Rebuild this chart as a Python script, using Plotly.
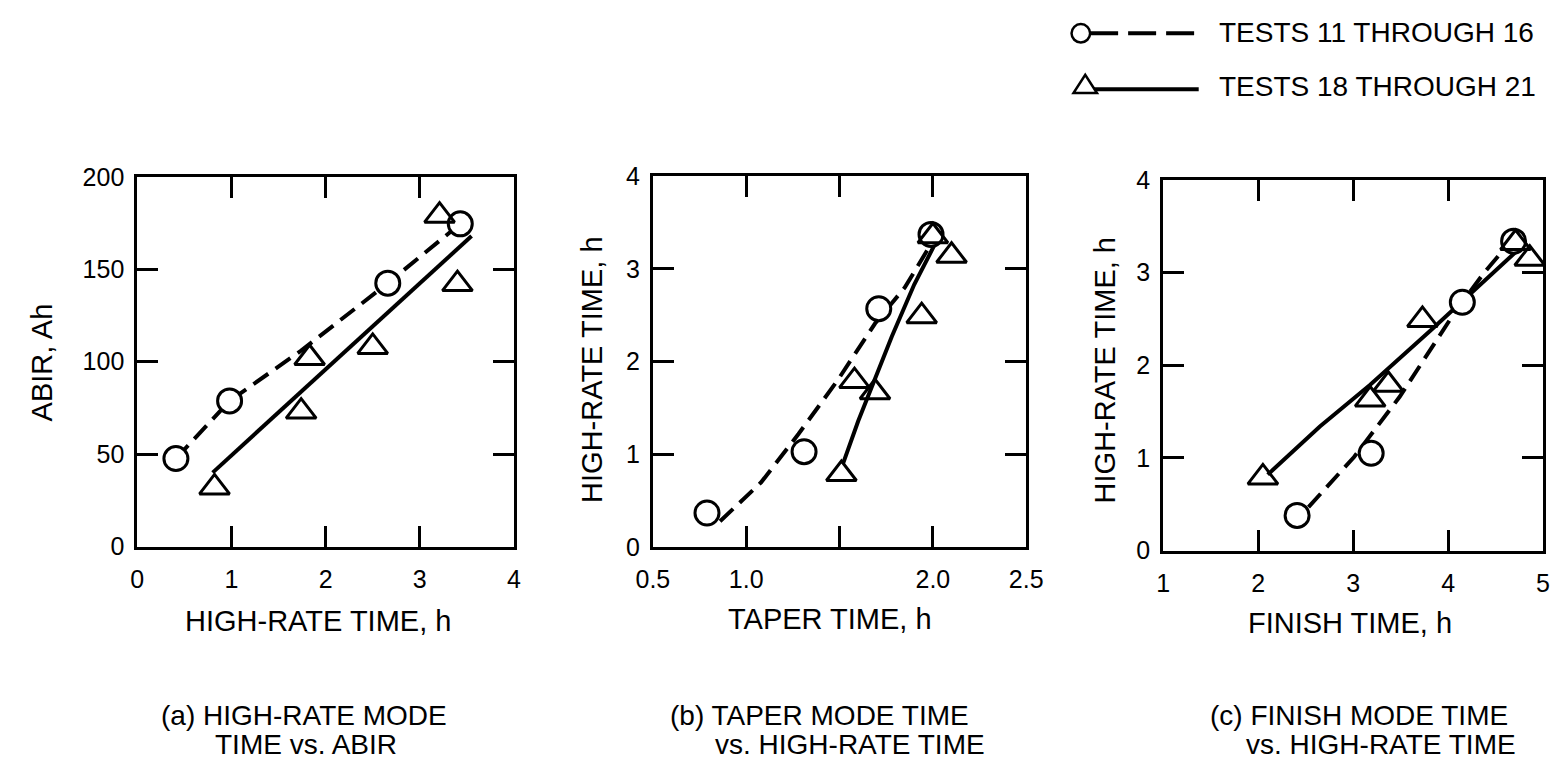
import plotly.graph_objects as go

W, H = 1562, 775
FONT = "Liberation Sans"

# ---------------- data ----------------
# Panel (a): HIGH-RATE TIME (h) vs ABIR (Ah)
a_circle_x = [0.41, 0.98, 2.66, 3.43]
a_circle_y = [47.6, 78.8, 142.5, 174.6]
a_dash_x = [0.41, 0.98, 1.74, 2.66, 3.43]
a_dash_y = [47.6, 78.8, 106.0, 142.5, 174.6]
a_tri_x = [0.82, 1.74, 1.83, 2.50, 3.21, 3.40]
a_tri_y = [32, 73, 102, 108, 179, 142]
a_solid_x = [0.80, 3.55]
a_solid_y = [40, 168]

# Panel (b): TAPER TIME (h) vs HIGH-RATE TIME (h)
b_circle_x = [0.79, 1.31, 1.71, 1.99]
b_circle_y = [0.37, 1.03, 2.57, 3.37]
b_dash_x = [0.86, 1.08, 1.28, 1.49, 1.69, 1.85, 2.00]
b_dash_y = [0.28, 0.70, 1.22, 1.80, 2.41, 2.80, 3.30]
b_tri_x = [1.51, 1.58, 1.69, 1.94, 2.00, 2.10]
b_tri_y = [0.79, 1.79, 1.67, 2.49, 3.35, 3.14]
b_solid_x = [1.52, 1.60, 1.78, 1.90, 2.03]
b_solid_y = [0.91, 1.36, 2.27, 2.83, 3.34]

# Panel (c): FINISH TIME (h) vs HIGH-RATE TIME (h)
c_circle_x = [2.41, 3.19, 4.15, 4.69]
c_circle_y = [0.38, 1.05, 2.68, 3.34]
c_dash_x = [2.53, 3.01, 3.49, 3.90, 4.07, 4.38, 4.67]
c_dash_y = [0.47, 1.01, 1.66, 2.29, 2.57, 3.00, 3.35]
c_tri_x = [2.05, 3.18, 3.37, 3.73, 4.71, 4.86]
c_tri_y = [0.79, 1.63, 1.79, 2.49, 3.32, 3.15]
c_solid_x = [2.10, 2.65, 3.18, 3.83, 4.72]
c_solid_y = [0.82, 1.34, 1.79, 2.39, 3.23]

# ticks
a_xticks = [0, 1, 2, 3, 4]
a_xticklabels = ["0", "1", "2", "3", "4"]
a_yticks = [0, 50, 100, 150, 200]
a_yticklabels = ["0", "50", "100", "150", "200"]
b_xticks = [0.5, 1.0, 1.5, 2.0, 2.5]
b_xticklabels = ["0.5", "1.0", "", "2.0", "2.5"]
b_yticks = [0, 1, 2, 3, 4]
b_yticklabels = ["0", "1", "2", "3", "4"]
c_xticks = [1, 2, 3, 4, 5]
c_xticklabels = ["1", "2", "3", "4", "5"]
c_yticks = [0, 1, 2, 3, 4]
c_yticklabels = ["0", "1", "2", "3", "4"]

# texts
x_titles = ["HIGH-RATE TIME, h", "TAPER TIME, h", "FINISH TIME, h"]
y_titles = ["ABIR, Ah", "HIGH-RATE TIME, h", "HIGH-RATE TIME, h"]
captions = [
    ["(a) HIGH-RATE MODE", "TIME vs. ABIR"],
    ["(b) TAPER MODE TIME", "vs. HIGH-RATE TIME"],
    ["(c) FINISH MODE TIME", "vs. HIGH-RATE TIME"],
]
legend_names = ["TESTS 11 THROUGH 16", "TESTS 18 THROUGH 21"]

# ---------------- layout helpers ----------------
def px(x):
    return x / W

def py(y):
    return 1 - y / H

LW = 4
DASH = "18px,9px"
CIRC = dict(symbol="circle", size=24, color="white", line=dict(color="black", width=3))
TRI = dict(symbol="triangle-up-open", size=26, color="black", line=dict(color="black", width=3))

fig = go.Figure()

panels = [
    ("x", "y", a_dash_x, a_dash_y, a_solid_x, a_solid_y, a_circle_x, a_circle_y, a_tri_x, a_tri_y),
    ("x2", "y2", b_dash_x, b_dash_y, b_solid_x, b_solid_y, b_circle_x, b_circle_y, b_tri_x, b_tri_y),
    ("x3", "y3", c_dash_x, c_dash_y, c_solid_x, c_solid_y, c_circle_x, c_circle_y, c_tri_x, c_tri_y),
]
for xa, ya, dx, dy, sx, sy, cx, cy, tx, ty in panels:
    fig.add_trace(go.Scatter(x=sx, y=sy, xaxis=xa, yaxis=ya, mode="lines",
                             line=dict(color="black", width=LW), showlegend=False,
                             hoverinfo="skip"))
    fig.add_trace(go.Scatter(x=dx, y=dy, xaxis=xa, yaxis=ya, mode="lines",
                             line=dict(color="black", width=LW, dash=DASH), showlegend=False,
                             hoverinfo="skip"))
    fig.add_trace(go.Scatter(x=cx, y=cy, xaxis=xa, yaxis=ya, mode="markers",
                             marker=CIRC, name=legend_names[0], showlegend=False, cliponaxis=False))
    fig.add_trace(go.Scatter(x=tx, y=ty, xaxis=xa, yaxis=ya, mode="markers",
                             marker=TRI, name=legend_names[1], showlegend=False, cliponaxis=False))


def axis(domain, rng, vals, text, standoff):
    return dict(domain=domain, range=rng, tickvals=vals, ticktext=text,
                ticks="inside", ticklen=21, tickwidth=2.5, tickcolor="black",
                showline=True, linewidth=3, linecolor="black", mirror="ticks",
                showgrid=False, zeroline=False, fixedrange=True,
                ticklabelstandoff=standoff,
                tickfont=dict(family=FONT, size=25, color="black"))

# domains from the reference pixel boxes
a_xd = [px(123), px(508)]
a_yd = [py(552.5), py(169)]
b_xd = [px(650), px(1031.7)]
b_yd = [py(553.3), py(168)]
c_xd = [px(1171.7), px(1560)]
c_yd = [py(556.7), py(172.2)]

fig.update_layout(
    width=W, height=H, autosize=False,
    margin=dict(l=0, r=0, t=0, b=0),
    paper_bgcolor="white", plot_bgcolor="white",
    showlegend=False,
    font=dict(family=FONT, color="black"),
    xaxis=dict(axis(a_xd, [0, 4], a_xticks, a_xticklabels, 8), anchor="y"),
    yaxis=dict(axis(a_yd, [0, 200], a_yticks, a_yticklabels, 5), anchor="x"),
    xaxis2=dict(axis(b_xd, [0.5, 2.5], b_xticks, b_xticklabels, 8), anchor="y2"),
    yaxis2=dict(axis(b_yd, [0, 4], b_yticks, b_yticklabels, 5), anchor="x2"),
    xaxis3=dict(axis(c_xd, [1, 5], c_xticks, c_xticklabels, 8), anchor="y3"),
    yaxis3=dict(axis(c_yd, [0, 4], c_yticks, c_yticklabels, 5), anchor="x3"),
)

ann = []
# axis titles
for t, (xc, yc) in zip(x_titles, [(308, 630), (831, 628), (1363, 632)]):
    ann.append(dict(text=t, x=px(xc), y=py(yc), xref="paper", yref="paper",
                    xanchor="center", yanchor="middle", showarrow=False,
                    font=dict(family=FONT, size=29, color="black")))
for t, (xc, yc) in zip(y_titles, [(26, 361), (587, 369), (1112, 370)]):
    ann.append(dict(text=t, x=px(xc), y=py(yc), xref="paper", yref="paper",
                    xanchor="center", yanchor="middle", showarrow=False, textangle=-90,
                    font=dict(family=FONT, size=29, color="black")))
# captions
cap_pos = [((145, 728), (200, 758)), ((665, 728), (711, 758)), ((1217, 728), (1254, 758))]
for lines, pos in zip(captions, cap_pos):
    for line, (xl, yc) in zip(lines, pos):
        ann.append(dict(text=line, x=px(xl), y=py(yc), xref="paper", yref="paper",
                        xanchor="left", yanchor="middle", showarrow=False,
                        font=dict(family=FONT, size=28, color="black")))
# legend text
for name, yc in zip(legend_names, [19, 75]):
    ann.append(dict(text=name, x=px(1227), y=py(yc), xref="paper", yref="paper",
                    xanchor="left", yanchor="middle", showarrow=False,
                    font=dict(family=FONT, size=28, color="black")))
fig.update_layout(annotations=ann)

# legend symbols (drawn as shapes)
shapes = [
    dict(type="line", xref="paper", yref="paper", x0=px(1097), x1=px(1208), y0=py(20), y1=py(20),
         line=dict(color="black", width=LW, dash="28px,10px")),
    dict(type="circle", xref="paper", yref="paper", x0=px(1078), x1=px(1097), y0=py(29.5), y1=py(10.5),
         line=dict(color="black", width=2.5), fillcolor="white"),
    dict(type="line", xref="paper", yref="paper", x0=px(1100), x1=px(1208), y0=py(78), y1=py(78),
         line=dict(color="black", width=LW)),
    dict(type="path", xref="paper", yref="paper",
         path=f"M {px(1080)},{py(82)} L {px(1104)},{py(82)} L {px(1092)},{py(63)} Z",
         line=dict(color="black", width=2.5), fillcolor="white"),
]
fig.update_layout(shapes=shapes)

fig.write_html("out.html", config={"displayModeBar": False},
               post_script="document.body.style.margin='0';")
